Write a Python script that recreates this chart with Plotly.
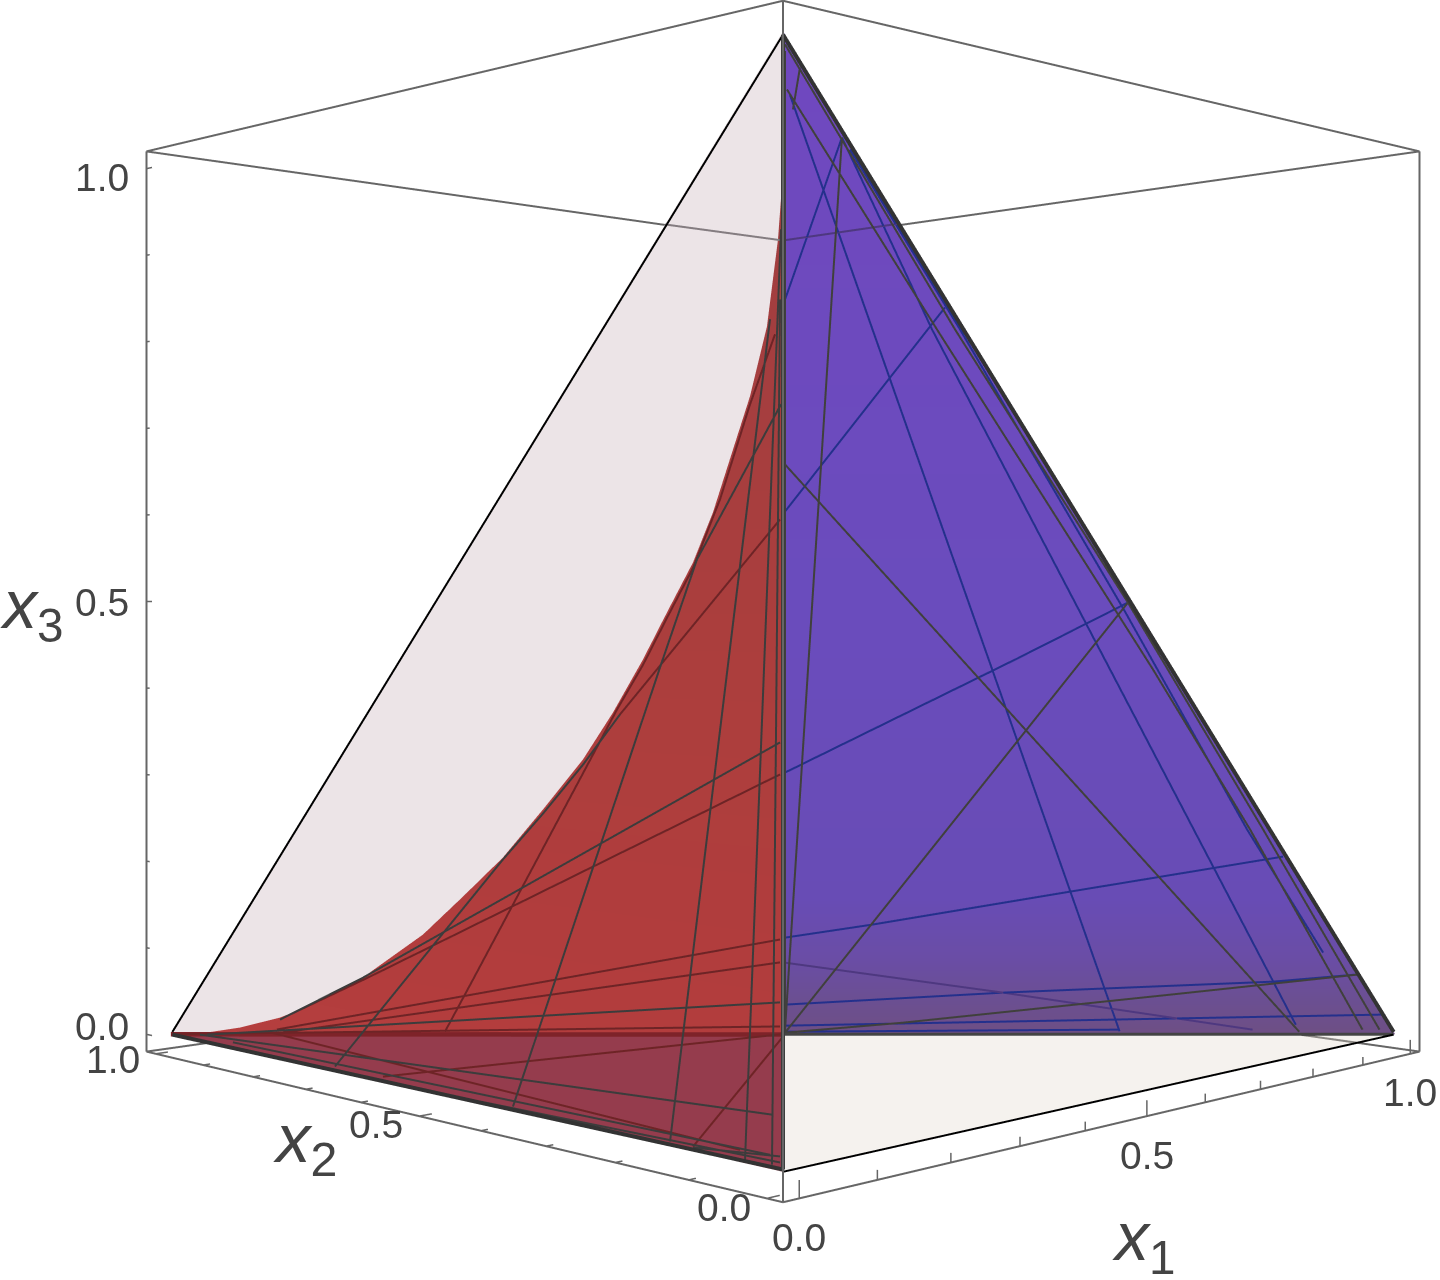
import plotly.graph_objects as go

# tick values
tick_vals = [0.0, 0.1, 0.2, 0.3, 0.4, 0.5, 0.6, 0.7, 0.8, 0.9, 1.0]
tick_labels = {0.0: "0.0", 0.5: "0.5", 1.0: "1.0"}

# boundary between the red region and the pale region, on the x1=0 face
curve_x2 = [1.0, 0.9385, 0.8566, 0.7779, 0.7153, 0.6294, 0.5202, 0.454, 0.3903, 0.3287, 0.2692,
            0.2259, 0.1837, 0.1507, 0.1157, 0.0893, 0.0632, 0.0415, 0.02, 0.0062, 0.0012]
curve_x3 = [0.0, 0.0082, 0.0248, 0.045, 0.0664, 0.1023, 0.1597, 0.204, 0.2477, 0.2986, 0.3497,
            0.3957, 0.4462, 0.49, 0.5355, 0.5803, 0.636, 0.6822, 0.7427, 0.8181, 0.8657]
red_split_x3 = 0.1203

# lines on the x1=0 face: (x2 values, x3 values)
near_dark_lines = [
    ([0.0025, 0.1104, 0.1603, 0.3747], [0.673, 0.5382, 0.4392, 0.0045]),
    ([0.0162, 0.1466], [0.7488, 0.0045]),
    ([0.0025, 0.0478], [0.8266, 0.0033]),
    ([0.0037, 0.0137], [0.7652, 0.0041]),
    ([0.216, 0.2692, 0.3287, 0.3903, 0.5473, 0.6746], [0.3942, 0.3447, 0.2946, 0.2458, 0.1129, 0.0049]),
    ([0.0037, 0.6241, 0.7779], [0.3763, 0.1048, 0.0428]),
    ([0.0037, 0.9239], [0.1481, 0.0088]),
    ([0.01245, 0.9385], [0.0482, 0.007]),
    ([0.0162, 0.8707], [0.0124, 0.0066]),
    ([0.0037, 0.4266], [0.0076, 0.0022]),
    ([0.0037, 0.1157], [0.0129, 0.0037]),
]
near_red_lines = [
    ([0.0037, 0.216], [0.572, 0.3942]),
    ([0.00995, 0.0415, 0.0801, 0.1157, 0.1507, 0.1837, 0.2202, 0.4379, 0.4835],
     [0.735, 0.675, 0.5918, 0.5305, 0.485, 0.4412, 0.3987, 0.1224, 0.065]),
    ([0.0037, 0.6117, 0.7587], [0.3482, 0.1072, 0.0505]),
    ([0.0037, 0.7837], [0.2033, 0.0313]),
    ([0.0037, 0.7721], [0.1832, 0.0294]),
    ([0.0037, 1.0], [0.127, 0.0]),
    ([0.0037, 0.5888], [0.12, 0.0055]),
    ([0.0542, 0.8031], [0.011, 0.0267]),
    ([0.0012, 0.1157], [0.1173, 0.0045]),
]
# far top edge of the box as it shows through the pale part
near_gray_lines = [
    ([0.0, 0.1534], [0.8165, 0.8467]),
]

# lines on the x1+x2+x3=1 face: (x3 values, x1-x2 values)
far_dark_lines = [
    ([0.6341, 0.0034], [0.0028, 0.8427]),
    ([0.4989, 0.0021], [0.4958, 0.0033]),
    ([0.9553, 0.7569, 0.4295, 0.2525, 0.0061], [0.005, 0.2057, 0.542, 0.7168, 0.9454]),
    ([0.99, 0.7569, 0.4989, 0.2525, 0.0061], [0.0025, 0.2298, 0.4958, 0.7368, 0.9731]),
    ([0.9175, 0.0061], [0.075, 0.0033]),
    ([0.9724, 0.9397], [0.0213, 0.0126]),
    ([0.0021, 0.0152, 0.0514, 0.0769], [0.0033, 0.1952, 0.6246, 0.9207]),
    ([0.985, 0.002], [0.0025, 0.0033]),
]
far_blue_lines = [
    ([0.3175, 0.44, 0.4989], [0.003, 0.339, 0.4958]),
    ([0.5892, 0.7761], [0.0028, 0.2151]),
    ([0.783, 0.9175], [0.0027, 0.075]),
    ([0.951, 0.004], [0.0088, 0.5493]),
    ([0.9175, 0.7569, 0.4295, 0.0126], [0.075, 0.1991, 0.4791, 0.8352]),
    ([0.9079, 0.7569, 0.4897, 0.2525, 0.1046], [0.0855, 0.2365, 0.4928, 0.7122, 0.8602]),
    ([0.1232, 0.1392, 0.1793, 0.221], [0.0032, 0.1405, 0.4486, 0.7735]),
    ([0.0386, 0.054, 0.068, 0.0769], [0.0032, 0.3549, 0.7874, 0.9175]),
    ([0.0113, 0.0257], [0.0033, 0.9744]),
    ([0.0034, 0.0061], [0.0033, 0.5493]),
]
far_purple_lines = [
    ([0.092, 0.054, 0.0061], [0.0032, 0.3549, 0.7661]),
    ([0.8333, 0.8475], [0.0, 0.1525]),
]

# colour of the far face by height
blue_levels = [0.0, 0.045, 0.096, 0.17, 0.5, 1.0]
blue_colors = ["#6e4f85", "#6b4f92", "#6a4da5", "#684cb5", "#6a4cbd", "#7048bf"]

LO, HI = -0.02, 1.02
PAD = 0.001  # the scene clips marks sitting right on its range
EYE = [-1.5738, -1.5738, 0.5]  # camera position in data units
BOX = "#666666"
DARK = "#3c3c3c"
LIGHT = dict(ambient=1, diffuse=0, specular=0, roughness=1, fresnel=0)
FONT = "Liberation Sans"
TICK_COLOR = "#444444"

fig = go.Figure()


def add_fan(xs, ys, zs, **kw):
    # fan of triangles around the first vertex
    n = len(xs)
    fig.add_trace(go.Mesh3d(x=xs, y=ys, z=zs, i=[0] * (n - 2), j=list(range(1, n - 1)), k=list(range(2, n)),
                            lighting=LIGHT, flatshading=True, showscale=False, hoverinfo="skip", **kw))


def add_lines(segments, color, width, toward_eye=0.0):
    # toward_eye slides points along the view ray, so they stay in place on screen but clear the face behind them
    xs, ys, zs = [], [], []
    for sx, sy, sz in segments:
        xs += [v + toward_eye * (EYE[0] - v) for v in sx] + [None]
        ys += [v + toward_eye * (EYE[1] - v) for v in sy] + [None]
        zs += [v + toward_eye * (EYE[2] - v) for v in sz] + [None]
    fig.add_trace(go.Scatter3d(x=xs, y=ys, z=zs, mode="lines", line=dict(color=color, width=width),
                               hoverinfo="skip", showlegend=False))


def near_segments(lines):
    return [([0.0] * len(a), a, b) for a, b in lines]


def far_segments(lines):
    out = []
    for z, d in lines:
        out.append(([(1 - v + w) / 2 for v, w in zip(z, d)],
                    [(1 - v - w) / 2 for v, w in zip(z, d)], z))
    return out


# pale part of the x1=0 face
add_fan([0.0] * (len(curve_x2) + 1), [0.0] + curve_x2, [1.0] + curve_x3, color="#ece4e7", opacity=1)

# red region above and below the line where the far edge crosses it
upper_x2 = [0.0] + curve_x2 + [0.0]
upper_x3 = [red_split_x3] + curve_x3 + [curve_x3[-1]]
add_fan([0.0] * len(upper_x2), upper_x2, upper_x3, intensity=upper_x3, cmin=0, cmax=0.87,
        colorscale=[[0, "#b53e3e"], [0.15, "#b23d3d"], [0.5, "#ac3e3d"], [1, "#a03e40"]])
add_fan([0.0, 0.0, 0.0], [0.0, 1.0, 0.0], [0.0, 0.0, red_split_x3], color="#953c4d", opacity=1)

# floor, see-through so the box edge below it still shows
add_fan([0.0, 1.0, 0.5], [0.0, 0.0, 0.5], [0.0, 0.0, 0.0], color="rgb(221,211,198)", opacity=0.3)

# blue face, in rows so the colour can change with height
bx, by, bz, bi, bj, bk = [], [], [], [], [], []
for lv in blue_levels:
    bx += [(1 - lv) / 2, 1 - lv]
    by += [(1 - lv) / 2, 0.0]
    bz += [lv, lv]
for r in range(len(blue_levels) - 1):
    p = 2 * r
    bi += [p, p]
    bj += [p + 1, p + 3]
    bk += [p + 3, p + 2]
fig.add_trace(go.Mesh3d(x=bx, y=by, z=bz, i=bi, j=bj, k=bk, intensity=bz, cmin=0, cmax=1,
                        colorscale=[[l, c] for l, c in zip(blue_levels, blue_colors)],
                        lighting=LIGHT, flatshading=True, showscale=False, hoverinfo="skip"))

# mesh lines
add_lines(near_segments(near_gray_lines), "#847c80", 4, 0.004)
add_lines(near_segments([([1.0, 0.0], [0.0, red_split_x3])]), "#7e2329", 9, 0.005)
add_lines(near_segments(near_red_lines), "#6e2426", 4, 0.006)
add_lines(near_segments(near_dark_lines), DARK, 4, 0.008)
add_lines(far_segments(far_blue_lines), "#24308c", 4, 0.006)
add_lines(far_segments(far_purple_lines), "#4e3880", 4, 0.006)
add_lines(far_segments(far_dark_lines), "#40403c", 4, 0.008)

# thick edges of the tetrahedron
add_lines(near_segments([([0.997, 0.0], [0.003, 0.997])]), "#000000", 4, 0.01)
add_lines([([0.997, 0.0], [0.0, 0.0], [0.0, 0.0])], "#000000", 4, 0.01)
add_lines(near_segments([([0.997, 0.0], [0.0, 0.002])]), "#333333", 8, 0.01)
add_lines([([0.0, 0.0], [0.0, 0.0], [0.002, 0.997])], "#3c3c3c", 8, 0.01)
add_lines([([0.0, 0.997], [0.0, 0.0], [0.997, 0.003])], "#333333", 8, 0.012)
add_lines(far_segments([([0.0, 0.0], [0.0, 0.997])]), "#444444", 6, 0.01)

# bounding box
box_segments = [
    ([LO, LO], [LO, LO], [LO, HI]),
    ([LO, LO], [HI, HI], [LO, HI]),
    ([HI, HI], [LO, LO], [LO, HI]),
    ([LO, HI], [LO, LO], [LO, LO]),
    ([LO, LO], [LO, HI], [LO, LO]),
    ([LO, HI], [LO, LO], [HI, HI]),
    ([LO, LO], [LO, HI], [HI, HI]),
    ([HI, HI], [LO, HI], [HI, HI]),
    ([LO, HI], [HI, HI], [HI, HI]),
    ([HI, HI], [LO, 0.145], [LO, LO]),
    ([LO, 0.064], [HI, HI], [LO, LO]),
]
add_lines(box_segments, BOX, 4)

# ticks
ticks = []
for t in tick_vals:
    major = t in tick_labels
    ticks.append(([t, t], [LO, LO], [LO, LO + (0.016 if major else 0.009)]))
    ticks.append(([LO, LO + (0.016 if major else 0.009)], [t, t], [LO, LO]))
    ticks.append(([LO, LO], [HI, HI - (0.012 if major else 0.007)], [t, t]))
add_lines(ticks, BOX, 3)


def label(x, y, z, text, dx, dy, size=39):
    return dict(x=x, y=y, z=z, text=text, showarrow=False, xshift=dx, yshift=dy, xanchor="center", yanchor="middle",
                font=dict(family=FONT, size=size, color=TICK_COLOR))


annotations = []
x3_shift = {0.0: 8, 0.5: -1, 1.0: -9}
x2_shift = {0.0: -9, 0.5: -8, 1.0: -6}
for t, s in tick_labels.items():
    annotations.append(label(t, LO, LO, s, 0, -39))
    annotations.append(label(LO, t, LO, s, -43, x2_shift[t]))
    annotations.append(label(LO, HI, t, s, -44, x3_shift[t]))
annotations.append(label(0.5, LO, LO, "<i>x</i><sub>1</sub>", -3, -125, 68))
annotations.append(label(LO, 0.5, LO, "<i>x</i><sub>2</sub>", -114, -27, 69))
annotations.append(label(LO, HI, 0.5, "<i>x</i><sub>3</sub>", -115, -7, 68))

hidden = dict(visible=False, range=[LO - PAD, HI + PAD], autorange=False, showspikes=False)
fig.update_layout(
    width=1440,
    height=2103,
    margin=dict(l=0, r=0, t=0, b=0),
    paper_bgcolor="white",
    showlegend=False,
    scene=dict(
        domain=dict(x=[0.0875, 1], y=[0, 1]),
        aspectmode="cube",
        bgcolor="white",
        xaxis=hidden,
        yaxis=hidden,
        zaxis=hidden,
        camera=dict(eye=dict(x=-1.9902, y=-1.9902, z=0), center=dict(x=0, y=0, z=0), up=dict(x=0, y=0, z=1)),
        annotations=annotations,
    ),
)

# the 45 degree field of view needs a tall scene, so pull it up to centre the box in the window
shift = """
var gd = document.getElementById('{plot_id}');
gd.style.position = 'absolute';
gd.style.top = '-450px';
gd.style.left = '0px';
document.documentElement.style.overflow = 'hidden';
document.body.style.overflow = 'hidden';
"""
fig.write_html("out.html", post_script=shift, config={"displayModeBar": False})
